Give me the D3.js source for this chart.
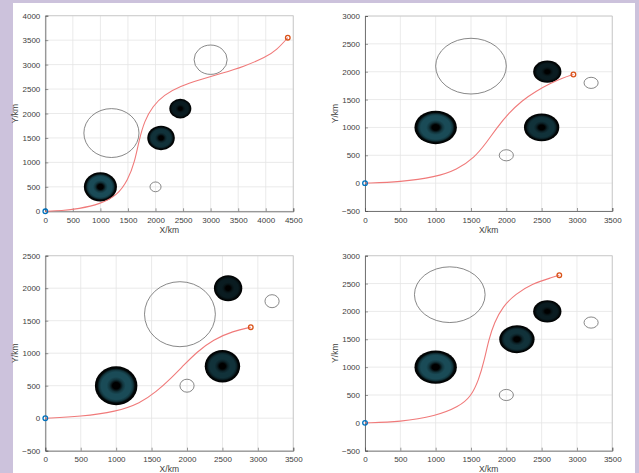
<!DOCTYPE html>
<html><head><meta charset="utf-8">
<script src="https://cdn.jsdelivr.net/npm/d3@7"></script>
<style>body{margin:0;background:#fff}svg{display:block}text{font-family:"Liberation Sans",Arial,sans-serif}</style>
</head><body>
<svg id="c" width="639" height="473"></svg>
<script>
// ---- data (km) ----
const xDomains = [[0,4500],[0,3500],[0,3500],[0,3500]];
const yDomains = [[0,4000],[-500,3000],[-500,2500],[-500,3000]];
const tickStep = 500;

// dark obstacles: [x, y, r]
const dark1 = [[1000,500,300],[2100,1500,250],[2450,2100,200]];
const dark2 = [[1000,1000,300],[2500,1000,250],[2580,2000,200]];
const dark3 = [[1000,500,300],[2500,800,250],[2580,2000,200]];
const dark4 = [[1000,1000,300],[2150,1500,250],[2580,2000,200]];

// open (threat) circles: [x, y, r]
const open1 = [[1200,1600,500],[3000,3100,300],[2000,500,100]];
const open2 = [[1500,2100,500],[2000,500,100],[3200,1800,100]];
const open3 = [[1900,1600,500],[2000,500,100],[3200,1800,100]];
const open4 = [[1200,2300,500],[2000,500,100],[3200,1800,100]];

// planned paths: [x, y]
const path1 = [[0,0],[300,10],[600,50],[1000,150],[1300,320],[1500,640],[1620,1000],[1700,1450],[1800,1850],[1950,2150],[2150,2380],[2450,2560],[2800,2690],[3200,2820],[3600,2960],[4000,3150],[4200,3300],[4400,3550]];
const path2 = [[0,0],[500,20],[1000,110],[1300,240],[1550,460],[1720,730],[1870,1000],[2030,1250],[2220,1480],[2420,1650],[2620,1790],[2800,1890],[2950,1950]];
const path3 = [[0,0],[500,25],[1000,100],[1340,230],[1570,410],[1760,600],[1940,800],[2140,1020],[2370,1210],[2650,1340],[2900,1400]];
const path4 = [[0,0],[500,15],[1000,120],[1330,290],[1500,470],[1610,770],[1690,1130],[1750,1490],[1830,1800],[1950,2090],[2130,2310],[2370,2500],[2650,2610],[2750,2650]];

const starts = [[0,0],[0,0],[0,0],[0,0]];
const ends = [[4400,3550],[2950,1950],[2900,1400],[2750,2650]];

const xLabel = "X/km", yLabel = "Y/km";

// ---- layout ----
const boxes = [
  {l:45.3,r:293.3,t:15.7,b:211.3},
  {l:365,r:612.3,t:16,b:211},
  {l:45.3,r:293.3,t:255.7,b:450.7},
  {l:365,r:612.3,t:255.7,b:450.7}
];
const darks=[dark1,dark2,dark3,dark4], opens=[open1,open2,open3,open4], paths=[path1,path2,path3,path4];

const svg = d3.select("#c");
svg.append("rect").attr("width",639).attr("height",473).attr("fill","#ccc2dc");
svg.append("rect").attr("x",13).attr("y",3).attr("width",622).attr("height",470).attr("fill","#fff");
const defs = svg.append("defs");

const teal = d3.color("#1a4b57");
function gradFor(id,k){
  const mid = d3.interpolateRgb("#000", teal)(k);
  const mid2 = d3.interpolateRgb("#000", teal)(k*0.7);
  const g = defs.append("radialGradient").attr("id",id).attr("cx","50%").attr("cy","50%").attr("r","50%");
  [[0,"#000"],[0.17,"#000"],[0.32,mid2],[0.45,mid],[0.7,mid],[0.8,mid2],[0.89,"#020708"],[1,"#000"]]
    .forEach(([o,c])=>g.append("stop").attr("offset",o).attr("stop-color",c));
}

boxes.forEach((bx,i)=>{
  const x = d3.scaleLinear().domain(xDomains[i]).range([bx.l,bx.r]);
  const y = d3.scaleLinear().domain(yDomains[i]).range([bx.b,bx.t]);
  const xt = d3.range(xDomains[i][0], xDomains[i][1]+1, tickStep);
  const yt = d3.range(yDomains[i][0], yDomains[i][1]+1, tickStep);
  const g = svg.append("g");
  // grid
  g.selectAll(".gx").data(xt).join("line").attr("x1",d=>x(d)).attr("x2",d=>x(d)).attr("y1",bx.t).attr("y2",bx.b).attr("stroke","#e4e4e4").attr("stroke-width",0.8);
  g.selectAll(".gy").data(yt).join("line").attr("y1",d=>y(d)).attr("y2",d=>y(d)).attr("x1",bx.l).attr("x2",bx.r).attr("stroke","#e4e4e4").attr("stroke-width",0.8);
  // box top/right
  g.append("path").attr("d",`M${bx.l},${bx.t}H${bx.r}V${bx.b}`).attr("fill","none").attr("stroke","#c4c4c4").attr("stroke-width",0.8);
  // axes
  const ax = d3.axisBottom(x).tickValues(xt).tickSize(-3).tickPadding(6).tickFormat(d3.format("d"));
  const ay = d3.axisLeft(y).tickValues(yt).tickSize(-3).tickPadding(5).tickFormat(d3.format("d"));
  const gx = g.append("g").attr("transform",`translate(0,${bx.b})`).call(ax);
  const gy = g.append("g").attr("transform",`translate(${bx.l},0)`).call(ay);
  [gx,gy].forEach(a=>{
    a.select(".domain").attr("stroke","#555").attr("stroke-width",0.8);
    a.selectAll(".tick line").attr("stroke","#555").attr("stroke-width",0.6);
    a.selectAll("text").attr("fill","#404040").attr("font-size",8).attr("font-family","'Liberation Sans',Arial,sans-serif");
  });
  // labels
  g.append("text").attr("x",(bx.l+bx.r)/2).attr("y",bx.b+21.5).attr("text-anchor","middle").attr("font-size",8.5).attr("fill","#404040").text(xLabel);
  g.append("text").attr("transform",`translate(${bx.l-27},${(bx.t+bx.b)/2}) rotate(-90)`).attr("text-anchor","middle").attr("font-size",8.5).attr("fill","#404040").text(yLabel);
  // dark obstacles
  darks[i].forEach((d,j)=>{
    const id=`g${i}_${j}`; gradFor(id,Math.pow((d[2]-100)/200,1.4));
    g.append("ellipse").attr("cx",x(d[0])).attr("cy",y(d[1]))
      .attr("rx",Math.abs(x(d[0]+d[2])-x(d[0]))).attr("ry",Math.abs(y(d[1]+d[2])-y(d[1])))
      .attr("fill",`url(#${id})`);
  });
  // open circles
  g.selectAll(".oc").data(opens[i]).join("ellipse")
    .attr("cx",d=>x(d[0])).attr("cy",d=>y(d[1]))
    .attr("rx",d=>Math.abs(x(d[0]+d[2])-x(d[0]))).attr("ry",d=>Math.abs(y(d[1]+d[2])-y(d[1])))
    .attr("fill","none").attr("stroke","#6a6a6a").attr("stroke-width",0.8);
  // path
  const line = d3.line().x(d=>x(d[0])).y(d=>y(d[1])).curve(d3.curveBasis);
  g.append("path").attr("d",line(paths[i])).attr("fill","none").attr("stroke","#f07a7a").attr("stroke-width",1.1);
  // markers
  g.append("circle").attr("cx",x(starts[i][0])).attr("cy",y(starts[i][1])).attr("r",2.3).attr("fill","none").attr("stroke","#0072BD").attr("stroke-width",1.3);
  g.append("circle").attr("cx",x(ends[i][0])).attr("cy",y(ends[i][1])).attr("r",2.3).attr("fill","none").attr("stroke","#D95319").attr("stroke-width",1.3);
});
</script>
</body></html>
